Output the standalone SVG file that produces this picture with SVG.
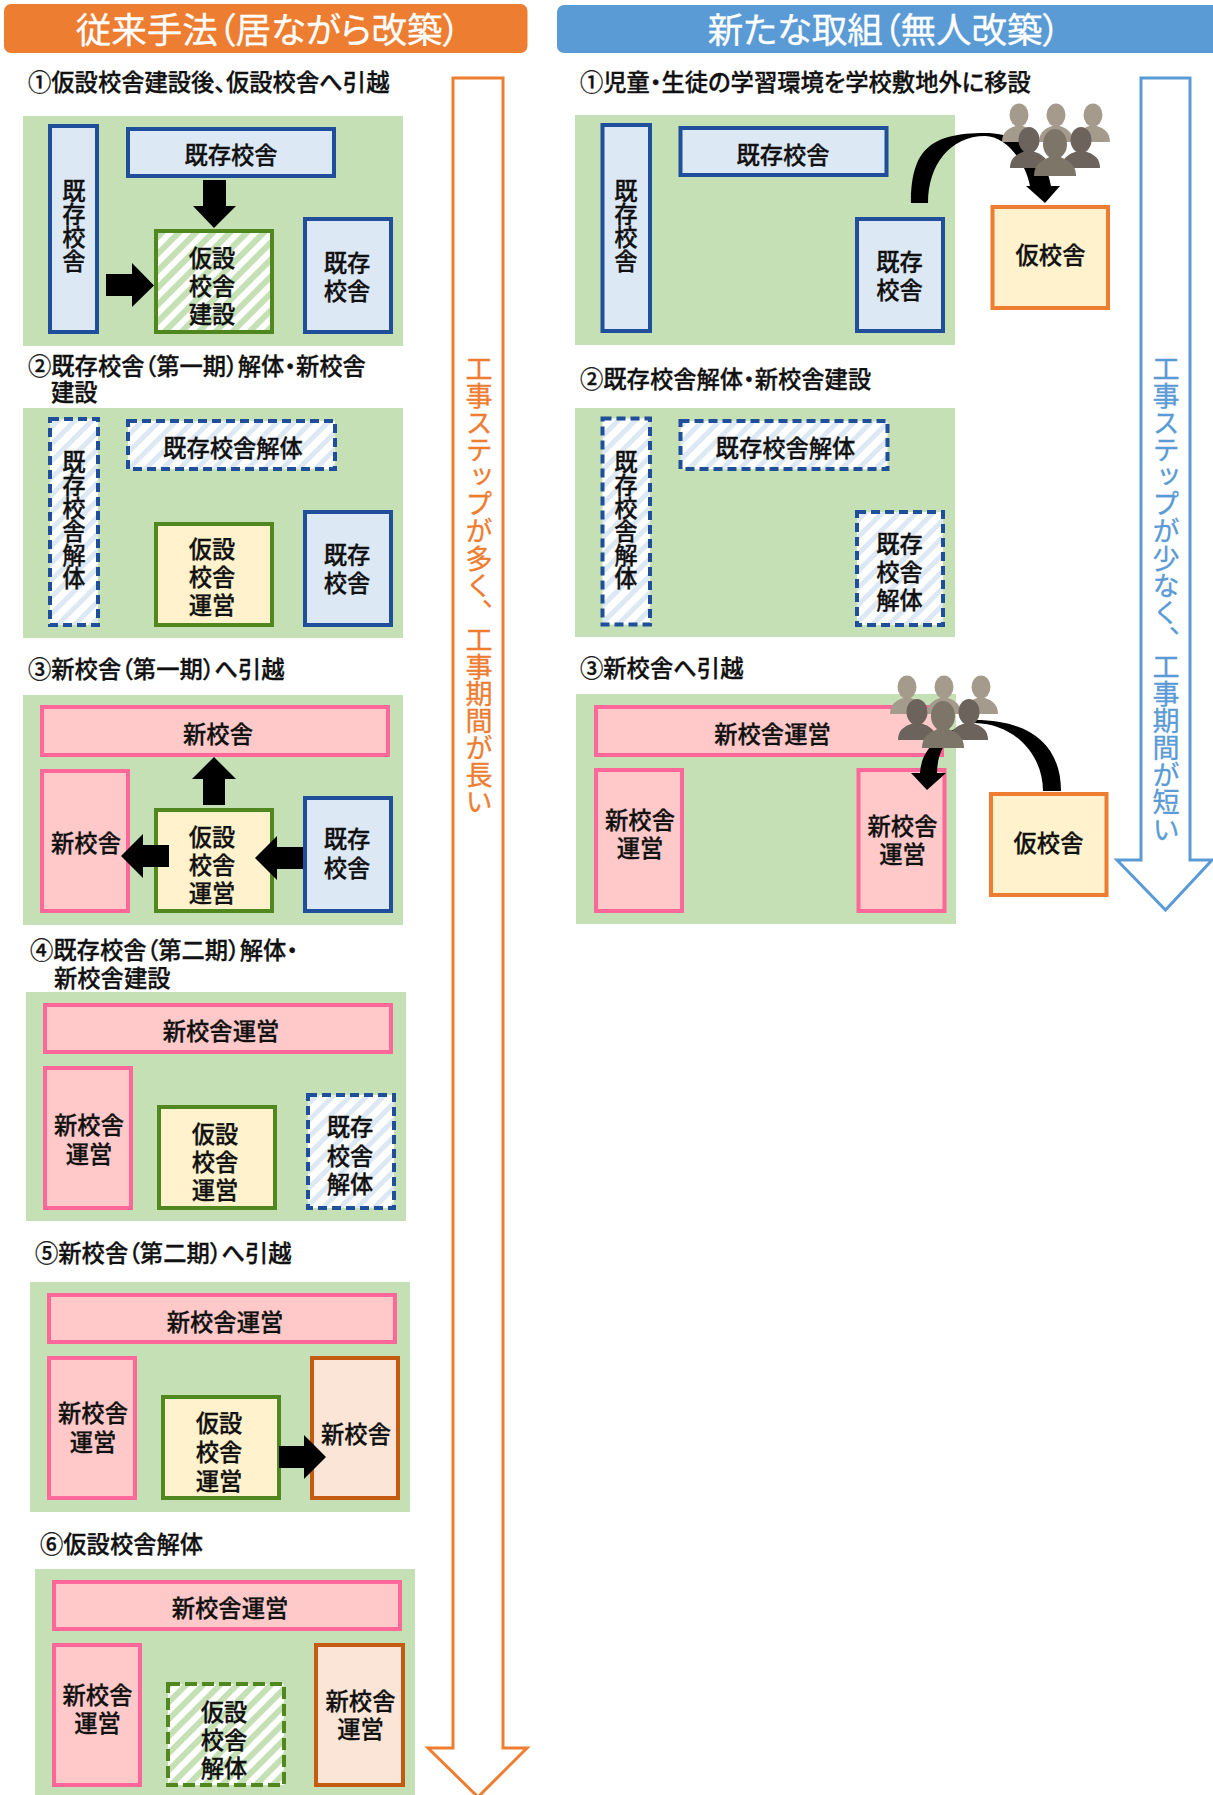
<svg xmlns="http://www.w3.org/2000/svg" width="1213" height="1795" viewBox="0 0 1213 1795">
<style>
text{font-family:"Noto Sans CJK JP","Noto Sans",sans-serif;font-size:23.300px;font-weight:500;fill:#111;stroke:#111;stroke-width:.3px;font-feature-settings:"palt";}
.m{text-anchor:middle}
.v{writing-mode:vertical-rl;text-anchor:middle;font-feature-settings:normal}
.h{font-size:35.500px;fill:#fff;stroke:#fff;text-anchor:middle;font-weight:400}
.big{font-size:27.100px;font-weight:400;writing-mode:vertical-rl;text-anchor:start;font-feature-settings:normal}
.p{fill:#C5E0B4}
.b{fill:#DDE8F5;stroke:#1F4E9A;stroke-width:4}
.bd{fill:url(#hb);stroke:#1F4E9A;stroke-width:4;stroke-dasharray:9 5}
.pk{fill:#FFC9C9;stroke:#FF6699;stroke-width:4}
.gh{fill:url(#hg);stroke:#50871F;stroke-width:4}
.ghd{fill:url(#hg);stroke:#50871F;stroke-width:4;stroke-dasharray:12 5}
.gy{fill:#FFF2CC;stroke:#50871F;stroke-width:4}
.oy{fill:#FFF2CC;stroke:#ED7D31;stroke-width:4}
.op{fill:#FBE5D6;stroke:#C55A11;stroke-width:4}
.ar{fill:#000}
</style>
<defs>
<pattern id="hg" width="12" height="12" patternUnits="userSpaceOnUse" patternTransform="rotate(45)"><rect width="12" height="12" fill="#fff"/><rect width="6" height="12" fill="#C5E0B4"/></pattern>
<pattern id="hb" width="12" height="12" patternUnits="userSpaceOnUse" patternTransform="rotate(45)"><rect width="12" height="12" fill="#fff"/><rect width="5" height="12" fill="#DDE8F5"/></pattern>
<g id="crowd">
<g fill="#A59B8D">
<ellipse cx="1019" cy="115" rx="9.500" ry="11.500"/><path d="M1002 142C1002 131 1010 127 1019 125C1028 127 1036 131 1036 142Z"/>
<ellipse cx="1056" cy="115" rx="9.500" ry="11.500"/><path d="M1039 142C1039 131 1047 127 1056 125C1065 127 1073 131 1073 142Z"/>
<ellipse cx="1093" cy="115" rx="9.500" ry="11.500"/><path d="M1076 142C1076 131 1084 127 1093 125C1102 127 1110 131 1110 142Z"/>
</g>
<g fill="#6B635C">
<ellipse cx="1029" cy="140" rx="10.500" ry="13"/><path d="M1010 168C1010 156 1019 153 1029 150C1039 153 1048 156 1048 168Z"/>
<ellipse cx="1081" cy="140" rx="10.500" ry="13"/><path d="M1062 168C1062 156 1071 153 1081 150C1091 153 1100 156 1100 168Z"/>
</g>
<g fill="#7D7568">
<ellipse cx="1055" cy="144" rx="12" ry="15"/><path d="M1034 176C1034 163 1044 159 1055 155C1066 159 1076 163 1076 176Z"/>
</g>
</g>
</defs>
<rect width="1213" height="1795" fill="#fff"/>

<g id="header-left"><rect x="4" y="4" width="523.500" height="49" rx="7" fill="#ED7D31"/><text class="h" x="268" y="42.500">従来手法（居ながら改築）</text></g>
<g id="header-right"><rect x="557" y="5" width="670" height="48" rx="7" fill="#5B9BD5"/><text class="h" x="884" y="42.500">新たな取組（無人改築）</text></g>

<g id="big-arrow-left"><path d="M453 78H503V1748H527L478 1797L428 1748H453Z" fill="#fff" stroke="#ED7D31" stroke-width="3"/><text class="big" x="479" y="355" style="fill:#ED7D31;stroke:#ED7D31">工事ステップが多く、工事期間が長い</text></g>
<g id="big-arrow-right"><path d="M1141 78H1190V860H1212L1165.500 910L1117 860H1141Z" fill="#fff" stroke="#5B9BD5" stroke-width="3"/><text class="big" x="1166" y="355" style="fill:#5B9BD5;stroke:#5B9BD5">工事ステップが少なく、工事期間が短い</text></g>

<g id="labels">
<text x="28" y="91">①仮設校舎建設後、仮設校舎へ引越</text>
<text x="28" y="375">②既存校舎（第一期）解体・新校舎</text>
<text x="51" y="401">建設</text>
<text x="28" y="678">③新校舎（第一期）へ引越</text>
<text x="30" y="959">④既存校舎（第二期）解体・</text>
<text x="54" y="987">新校舎建設</text>
<text x="35" y="1262">⑤新校舎（第二期）へ引越</text>
<text x="40" y="1553">⑥仮設校舎解体</text>
<text x="580" y="91">①児童・生徒の学習環境を学校敷地外に移設</text>
<text x="580" y="388">②既存校舎解体・新校舎建設</text>
<text x="580" y="677">③新校舎へ引越</text>
</g>

<g id="L1"><rect class="p" x="23" y="116" width="380" height="230"/>
<g id="L1-a"><rect class="b" x="50" y="126" width="47" height="206"/><text class="v" x="74" y="226">既存校舎</text></g>
<g id="L1-b"><rect class="b" x="128" y="129" width="206" height="47"/><text class="m" x="231" y="164">既存校舎</text></g>
<g id="L1-c"><rect class="gh" x="156" y="231" width="116" height="101"/><text class="m"><tspan x="212" y="267">仮設</tspan><tspan x="212" y="295">校舎</tspan><tspan x="212" y="323">建設</tspan></text></g>
<g id="L1-d"><rect class="b" x="305" y="219" width="86" height="113"/><text class="m"><tspan x="347" y="272">既存</tspan><tspan x="347" y="300">校舎</tspan></text></g>
</g>

<g id="L2"><rect class="p" x="23" y="408" width="380" height="230"/>
<g id="L2-a"><rect class="bd" x="50" y="419" width="48" height="206"/><text class="v" x="74" y="520">既存校舎解体</text></g>
<g id="L2-b"><rect class="bd" x="128" y="421" width="207" height="48"/><text class="m" x="233" y="457">既存校舎解体</text></g>
<g id="L2-c"><rect class="gy" x="156" y="524" width="116" height="101"/><text class="m"><tspan x="212" y="558">仮設</tspan><tspan x="212" y="586">校舎</tspan><tspan x="212" y="614">運営</tspan></text></g>
<g id="L2-d"><rect class="b" x="305" y="512" width="86" height="113"/><text class="m"><tspan x="347" y="564">既存</tspan><tspan x="347" y="592">校舎</tspan></text></g>
</g>

<g id="L3"><rect class="p" x="23" y="695" width="380" height="230"/>
<g id="L3-a"><rect class="pk" x="42" y="707" width="346" height="48"/><text class="m" x="218" y="743">新校舎</text></g>
<g id="L3-b"><rect class="pk" x="42" y="771" width="86" height="140"/><text class="m" x="86" y="852">新校舎</text></g>
<g id="L3-c"><rect class="gy" x="156" y="810" width="116" height="101"/><text class="m"><tspan x="212" y="846">仮設</tspan><tspan x="212" y="874">校舎</tspan><tspan x="212" y="902">運営</tspan></text></g>
<g id="L3-d"><rect class="b" x="305" y="798" width="86" height="113"/><text class="m"><tspan x="347" y="848">既存</tspan><tspan x="347" y="877">校舎</tspan></text></g>
</g>

<g id="L4"><rect class="p" x="26" y="992" width="380" height="229"/>
<g id="L4-a"><rect class="pk" x="45" y="1005" width="346" height="47"/><text class="m" x="221" y="1040">新校舎運営</text></g>
<g id="L4-b"><rect class="pk" x="45" y="1068" width="86" height="140"/><text class="m"><tspan x="89" y="1134">新校舎</tspan><tspan x="89" y="1163">運営</tspan></text></g>
<g id="L4-c"><rect class="gy" x="159" y="1107" width="116" height="101"/><text class="m"><tspan x="215" y="1143">仮設</tspan><tspan x="215" y="1171">校舎</tspan><tspan x="215" y="1199">運営</tspan></text></g>
<g id="L4-d"><rect class="bd" x="308" y="1095" width="86" height="113"/><text class="m"><tspan x="350" y="1136">既存</tspan><tspan x="350" y="1165">校舎</tspan><tspan x="350" y="1193">解体</tspan></text></g>
</g>

<g id="L5"><rect class="p" x="30" y="1282" width="380" height="230"/>
<g id="L5-a"><rect class="pk" x="49" y="1295" width="346" height="47"/><text class="m" x="225" y="1331">新校舎運営</text></g>
<g id="L5-b"><rect class="pk" x="49" y="1358" width="86" height="140"/><text class="m"><tspan x="93" y="1422">新校舎</tspan><tspan x="93" y="1451">運営</tspan></text></g>
<g id="L5-c"><rect class="gy" x="163" y="1397" width="116" height="101"/><text class="m"><tspan x="219" y="1432">仮設</tspan><tspan x="219" y="1461">校舎</tspan><tspan x="219" y="1490">運営</tspan></text></g>
<g id="L5-d"><rect class="op" x="312" y="1358" width="86" height="140"/><text class="m" x="356" y="1443">新校舎</text></g>
</g>

<g id="L6"><rect class="p" x="35" y="1569" width="380" height="226"/>
<g id="L6-a"><rect class="pk" x="54" y="1582" width="346" height="47"/><text class="m" x="230" y="1617">新校舎運営</text></g>
<g id="L6-b"><rect class="pk" x="54" y="1645" width="86" height="140"/><text class="m"><tspan x="97.500" y="1704">新校舎</tspan><tspan x="97.500" y="1732">運営</tspan></text></g>
<g id="L6-c"><rect class="ghd" x="168" y="1684" width="116" height="101"/><text class="m"><tspan x="224" y="1721">仮設</tspan><tspan x="224" y="1749">校舎</tspan><tspan x="224" y="1777">解体</tspan></text></g>
<g id="L6-d"><rect class="op" x="316" y="1645" width="87" height="140"/><text class="m"><tspan x="360.500" y="1710">新校舎</tspan><tspan x="360.500" y="1738">運営</tspan></text></g>
</g>

<g id="R1"><rect class="p" x="575" y="115" width="380" height="230"/>
<g id="R1-a"><rect class="b" x="602.500" y="125" width="47.500" height="206"/><text class="v" x="626" y="226">既存校舎</text></g>
<g id="R1-b"><rect class="b" x="680.500" y="128" width="206" height="47"/><text class="m" x="783" y="164">既存校舎</text></g>
<g id="R1-c"><rect class="b" x="857" y="219" width="86" height="112"/><text class="m"><tspan x="899.500" y="271">既存</tspan><tspan x="899.500" y="299">校舎</tspan></text></g>
<g id="R1-d"><rect class="oy" x="992.500" y="207" width="115.500" height="101"/><text class="m" x="1050.500" y="264">仮校舎</text></g>
</g>

<g id="R2"><rect class="p" x="575" y="408" width="380" height="229"/>
<g id="R2-a"><rect class="bd" x="602.500" y="418.500" width="47.500" height="206"/><text class="v" x="626" y="520">既存校舎解体</text></g>
<g id="R2-b"><rect class="bd" x="680.500" y="421" width="207" height="48"/><text class="m" x="785.500" y="457">既存校舎解体</text></g>
<g id="R2-c"><rect class="bd" x="857" y="512" width="86" height="113"/><text class="m"><tspan x="899.500" y="553">既存</tspan><tspan x="899.500" y="581">校舎</tspan><tspan x="899.500" y="609">解体</tspan></text></g>
</g>

<g id="R3"><rect class="p" x="576" y="694" width="380" height="230"/>
<g id="R3-a"><rect class="pk" x="596" y="707" width="346" height="48"/><text class="m" x="772.500" y="743">新校舎運営</text></g>
<g id="R3-b"><rect class="pk" x="596" y="770" width="86" height="141"/><text class="m"><tspan x="640" y="829">新校舎</tspan><tspan x="640" y="857">運営</tspan></text></g>
<g id="R3-c"><rect class="pk" x="858.500" y="770" width="86" height="141"/><text class="m"><tspan x="902.500" y="835">新校舎</tspan><tspan x="902.500" y="863">運営</tspan></text></g>
<g id="R3-d"><rect class="oy" x="991" y="794" width="115.500" height="101"/><text class="m" x="1048.500" y="852">仮校舎</text></g>
</g>

<g id="connectors">
<path class="ar" d="M203 180H226V206H236L214 228L193 206H203Z"/>
<path class="ar" d="M106 274H132V263L154 285.500L132 307V296H106Z"/>
<path class="ar" d="M203 805H225V779H236L214 757L192 779H203Z"/>
<path class="ar" d="M169 845H143V834L121 856L143 878V867H169Z"/>
<path class="ar" d="M303 847H277V836L255 858L277 880V869H303Z"/>
<path class="ar" d="M279 1446H304V1435L326 1457L304 1479V1468H279Z"/>
<path class="ar" d="M911 203C911 150 930 133 985 133C1015 133 1045 150 1051 186H1060L1045 203L1026 186H1030C1025 160 1005 136 985 136C950 136 928 165 928 203Z"/>
<path class="ar" d="M1061 791C1061 745 1030 720 975 720C950 730 937 750 937 773H946L927 790L911 773H920C921 750 940 730 975 723C1015 724 1043 755 1043 791Z"/>
</g>
<use href="#crowd"/>
<use href="#crowd" x="-112" y="572"/>
</svg>
